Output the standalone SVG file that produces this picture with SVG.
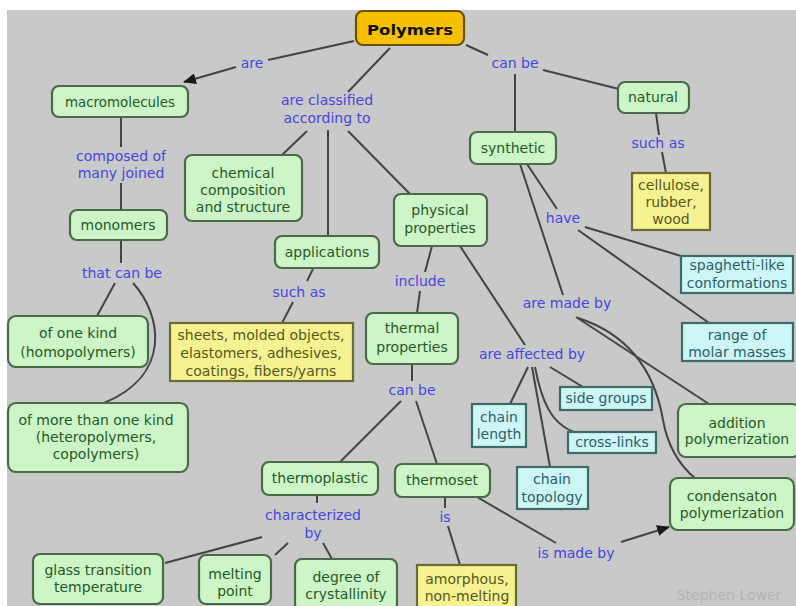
<svg xmlns="http://www.w3.org/2000/svg" width="796" height="606" viewBox="0 0 796 606">
<style>
  text { font-family: "DejaVu Sans", Verdana, sans-serif; font-size: 14px; text-anchor: middle; }
  .g rect { fill: #cdf5c8; stroke: #4a6a4a; stroke-width: 2.2; }
  .g text { fill: #245a24; }
  .c rect { fill: #cdf6f6; stroke: #3e6a6a; stroke-width: 2.2; }
  .c text { fill: #2a5f6a; }
  .y rect { fill: #f6f291; stroke: #6a6a34; stroke-width: 2.2; }
  .y text { fill: #58581a; }
  .lbl { fill: #4646e2; }
  #connectors path, #connectors line { stroke: #444; stroke-width: 2; fill: none; }
</style>
<defs>
  <marker id="arr" markerWidth="13" markerHeight="11" refX="12" refY="5.5" orient="auto" markerUnits="userSpaceOnUse">
    <path d="M0,0 L13,5.5 L0,11 Z" fill="#1a1a1a"/>
  </marker>
</defs>
<rect x="0" y="0" width="796" height="606" fill="#ffffff"/>
<rect x="7" y="10" width="789" height="596" fill="#c9c9c9"/>

<g id="connectors">
  <line x1="354" y1="41" x2="268" y2="60"/>
  <line x1="236" y1="67" x2="184" y2="82" marker-end="url(#arr)"/>
  <line x1="390" y1="48" x2="348" y2="92"/>
  <line x1="307" y1="131" x2="282" y2="155"/>
  <line x1="328" y1="130" x2="328" y2="236"/>
  <line x1="348" y1="131" x2="410" y2="194"/>
  <line x1="466" y1="45" x2="488" y2="55"/>
  <line x1="543" y1="70" x2="619" y2="89"/>
  <line x1="515" y1="74" x2="515" y2="132"/>
  <line x1="656" y1="113" x2="659" y2="135"/>
  <line x1="662" y1="152" x2="666" y2="173"/>
  <line x1="121" y1="118" x2="121" y2="147"/>
  <line x1="121" y1="183" x2="121" y2="210"/>
  <line x1="121" y1="240" x2="121" y2="263"/>
  <line x1="115" y1="283" x2="97" y2="316"/>
  <path d="M133,283 C162,315 172,375 104,403"/>
  <line x1="313" y1="269" x2="307" y2="281"/>
  <line x1="293" y1="302" x2="282" y2="323"/>
  <line x1="432" y1="246" x2="425" y2="272"/>
  <line x1="420" y1="291" x2="417" y2="313"/>
  <line x1="460" y1="246" x2="525" y2="345"/>
  <line x1="527" y1="164" x2="557" y2="209"/>
  <line x1="520" y1="164" x2="563" y2="295"/>
  <line x1="585" y1="227" x2="681" y2="256"/>
  <line x1="578" y1="230" x2="709" y2="323"/>
  <line x1="576" y1="317" x2="709" y2="404"/>
  <path d="M578,318 C640,338 657,385 663,420 C668,448 680,466 696,479"/>
  <line x1="528" y1="367" x2="510" y2="404"/>
  <line x1="532" y1="367" x2="550" y2="467"/>
  <path d="M535,367 C541,398 550,425 577,433"/>
  <line x1="550" y1="367" x2="583" y2="387"/>
  <line x1="412" y1="364" x2="412" y2="381"/>
  <line x1="401" y1="401" x2="340" y2="462"/>
  <line x1="416" y1="401" x2="437" y2="464"/>
  <line x1="317" y1="495" x2="317" y2="503"/>
  <line x1="262" y1="537" x2="165" y2="563"/>
  <line x1="288" y1="543" x2="275" y2="555"/>
  <line x1="323" y1="543" x2="332" y2="559"/>
  <line x1="445" y1="497" x2="445" y2="508"/>
  <line x1="448" y1="526" x2="460" y2="565"/>
  <line x1="477" y1="497" x2="556" y2="543"/>
  <line x1="621" y1="542" x2="669" y2="527" marker-end="url(#arr)"/>
</g>

<g id="n-polymers">
  <rect x="356" y="11" width="108" height="34" rx="7" fill="#f5c000" stroke="#6a5200" stroke-width="2.2"/>
  <text x="410" y="35" font-weight="bold" font-size="19" fill="#111" textLength="86" lengthAdjust="spacingAndGlyphs">Polymers</text>
</g>
<g id="n-macromolecules" class="g"><rect x="52" y="86" width="136" height="31" rx="7"/><text x="120" y="107" textLength="110" lengthAdjust="spacingAndGlyphs">macromolecules</text></g>
<g id="n-chemical" class="g"><rect x="185" y="155" width="117" height="66" rx="7"/><text x="243" y="178">chemical</text><text x="243" y="195">composition</text><text x="243" y="212">and structure</text></g>
<g id="n-physical" class="g"><rect x="394" y="194" width="93" height="52" rx="7"/><text x="440" y="215">physical</text><text x="440" y="233">properties</text></g>
<g id="n-applications" class="g"><rect x="275" y="236" width="104" height="32" rx="7"/><text x="327" y="257">applications</text></g>
<g id="n-synthetic" class="g"><rect x="470" y="132" width="86" height="32" rx="7"/><text x="513" y="153">synthetic</text></g>
<g id="n-natural" class="g"><rect x="618" y="82" width="71" height="31" rx="7"/><text x="653" y="102">natural</text></g>
<g id="n-cellulose" class="y"><rect x="632" y="173" width="78" height="57"/><text x="671" y="190">cellulose,</text><text x="671" y="207">rubber,</text><text x="671" y="224">wood</text></g>
<g id="n-monomers" class="g"><rect x="70" y="210" width="97" height="30" rx="7"/><text x="118" y="230">monomers</text></g>
<g id="n-onekind" class="g"><rect x="8" y="316" width="140" height="51" rx="8"/><text x="78" y="338">of one kind</text><text x="78" y="357">(homopolymers)</text></g>
<g id="n-morekind" class="g"><rect x="8" y="403" width="180" height="69" rx="8"/><text x="96" y="425">of more than one kind</text><text x="96" y="442">(heteropolymers,</text><text x="96" y="459">copolymers)</text></g>
<g id="n-sheets" class="y"><rect x="170" y="323" width="183" height="58"/><text x="261" y="340">sheets, molded objects,</text><text x="261" y="358">elastomers, adhesives,</text><text x="261" y="376">coatings, fibers/yarns</text></g>
<g id="n-thermal" class="g"><rect x="366" y="313" width="92" height="51" rx="7"/><text x="412" y="333">thermal</text><text x="412" y="352">properties</text></g>
<g id="n-spaghetti" class="c"><rect x="681" y="256" width="112" height="37"/><text x="737" y="270">spaghetti-like</text><text x="737" y="288">conformations</text></g>
<g id="n-range" class="c"><rect x="682" y="323" width="111" height="38"/><text x="737" y="340">range of</text><text x="737" y="357">molar masses</text></g>
<g id="n-sidegroups" class="c"><rect x="560" y="387" width="92" height="23"/><text x="606" y="403">side groups</text></g>
<g id="n-chainlength" class="c"><rect x="472" y="404" width="54" height="43"/><text x="499" y="422">chain</text><text x="499" y="439">length</text></g>
<g id="n-crosslinks" class="c"><rect x="568" y="432" width="88" height="21"/><text x="612" y="447">cross-links</text></g>
<g id="n-chaintopology" class="c"><rect x="517" y="467" width="71" height="42"/><text x="552" y="484">chain</text><text x="552" y="502">topology</text></g>
<g id="n-addition" class="g"><rect x="678" y="404" width="122" height="53" rx="8"/><text x="737" y="428">addition</text><text x="737" y="444">polymerization</text></g>
<g id="n-condensation" class="g"><rect x="670" y="478" width="124" height="52" rx="8"/><text x="732" y="501">condensaton</text><text x="732" y="518">polymerization</text></g>
<g id="n-thermoplastic" class="g"><rect x="262" y="462" width="116" height="33" rx="7"/><text x="320" y="483">thermoplastic</text></g>
<g id="n-thermoset" class="g"><rect x="395" y="464" width="95" height="33" rx="7"/><text x="442" y="485">thermoset</text></g>
<g id="n-glass" class="g"><rect x="33" y="554" width="130" height="50" rx="7"/><text x="98" y="575">glass transition</text><text x="98" y="592">temperature</text></g>
<g id="n-melting" class="g"><rect x="199" y="555" width="72" height="49" rx="7"/><text x="235" y="579">melting</text><text x="235" y="596">point</text></g>
<g id="n-degree" class="g"><rect x="295" y="559" width="102" height="52" rx="7"/><text x="346" y="582">degree of</text><text x="346" y="599">crystallinity</text></g>
<g id="n-amorphous" class="y"><rect x="417" y="565" width="99" height="46"/><text x="467" y="584">amorphous,</text><text x="467" y="601">non-melting</text></g>

<g id="labels" class="lbl">
  <text x="252" y="68" class="lbl">are</text>
  <text x="327" y="105" class="lbl">are classified</text>
  <text x="327" y="123" class="lbl">according to</text>
  <text x="515" y="68" class="lbl">can be</text>
  <text x="658" y="148" class="lbl">such as</text>
  <text x="121" y="161" class="lbl">composed of</text>
  <text x="121" y="178" class="lbl">many joined</text>
  <text x="122" y="278" class="lbl">that can be</text>
  <text x="299" y="297" class="lbl">such as</text>
  <text x="420" y="286" class="lbl">include</text>
  <text x="412" y="395" class="lbl">can be</text>
  <text x="563" y="223" class="lbl">have</text>
  <text x="567" y="308" class="lbl">are made by</text>
  <text x="532" y="359" class="lbl">are affected by</text>
  <text x="313" y="520" class="lbl">characterized</text>
  <text x="313" y="538" class="lbl">by</text>
  <text x="445" y="522" class="lbl">is</text>
  <text x="576" y="558" class="lbl">is made by</text>
</g>
<text x="729" y="600" font-size="9" fill="#b4b4b4">Stephen Lower</text>
</svg>
